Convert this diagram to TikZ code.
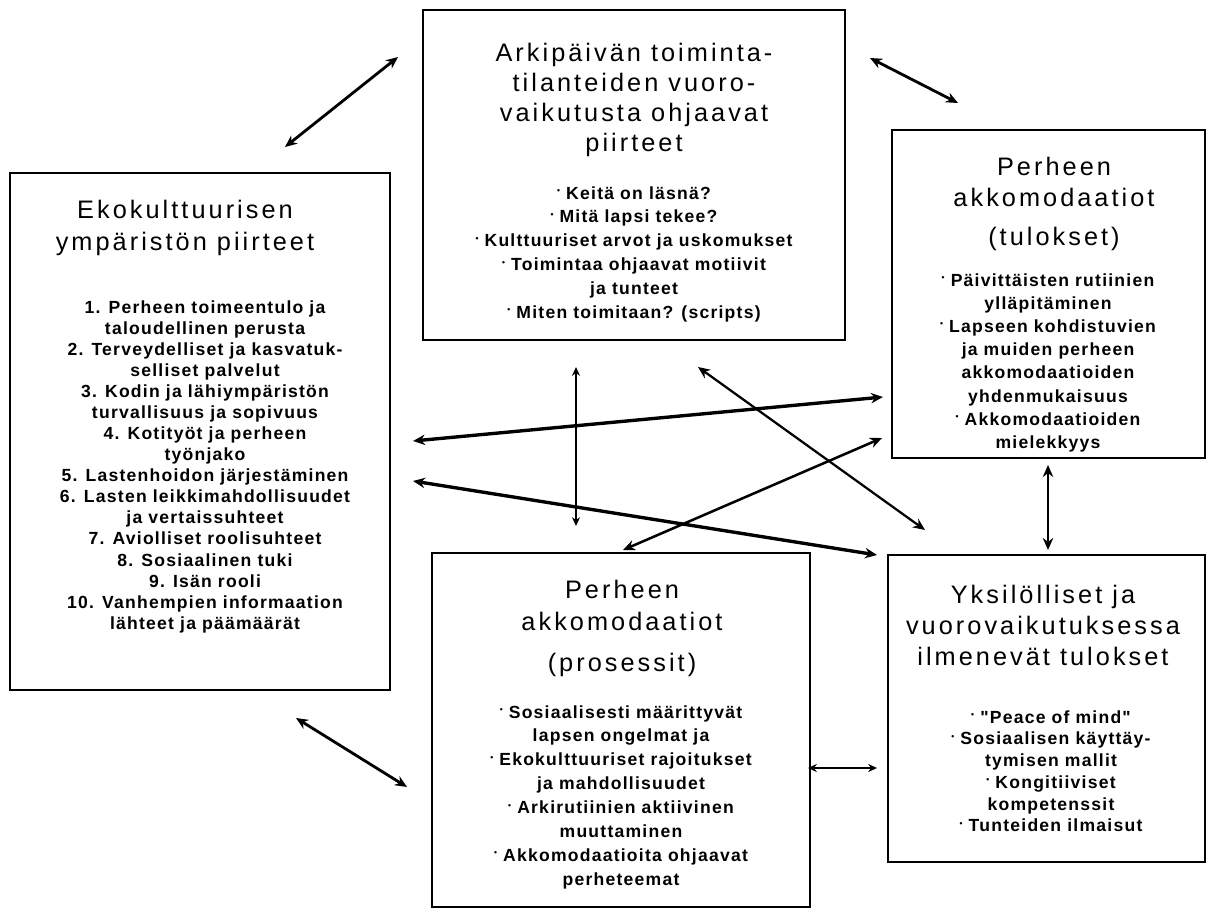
\documentclass[tikz,border=0pt]{standalone}
\usepackage{fontspec}
\usetikzlibrary{arrows.meta}
\newfontfamily\headfont[LetterSpace=12]{Liberation Sans}
\newfontfamily\itemfont[LetterSpace=7]{Liberation Sans}
\newcommand\blt{\raisebox{.6ex}{\fontsize{6}{6}\selectfont\textbullet}\ }
\tikzstyle{box} = [draw, line width=1.2pt, inner sep=0pt]
\tikzset{head/.style={align=center, anchor=north, inner sep=0pt, font=\headfont\fontsize{18}{#1}\selectfont}, head/.default=22}
\tikzset{item/.style={align=center, anchor=north, inner sep=0pt, font=\itemfont\bfseries\fontsize{12.5}{#1}\selectfont}, item/.default=17}
\tikzstyle{link} = [{Stealth[length=3mm,width=2.6mm]}-{Stealth[length=3mm,width=2.6mm]}, line width=2pt]
\tikzstyle{thinlink} = [{Stealth[length=2.2mm,width=2mm]}-{Stealth[length=2.2mm,width=2mm]}, line width=1pt]

\begin{document}
\begin{tikzpicture}[x=0.25mm, y=-0.25mm]

  \useasboundingbox (0,0) rectangle (1214,910);

  % boxes
  \node[box, minimum width=105.5mm, minimum height=82.5mm] (arki) at (634,175) {};
  \node[box, minimum width=95mm, minimum height=129.25mm] (eko) at (200,431.5) {};
  \node[box, minimum width=78.25mm, minimum height=82mm] (tulos) at (1048.5,294) {};
  \node[box, minimum width=94.5mm, minimum height=88.5mm] (prosessi) at (621,730) {};
  \node[box, minimum width=79.25mm, minimum height=76.75mm] (yksilo) at (1046.5,708.5) {};

  % texts
  \node[head=21.3] (arkiT) at (634,43) {Arkipäivän toiminta-\\tilanteiden vuoro-\\vaikutusta ohjaavat\\piirteet};
  \node[item] (arkiL) at (634,186) {\blt Keitä on läsnä?\\\blt Mitä lapsi tekee?\\\blt Kulttuuriset arvot ja uskomukset\\\blt Toimintaa ohjaavat motiivit\\ja tunteet\\\blt Miten toimitaan? (scripts)};

  \node[head=23] (ekoT) at (185,200) {Ekokulttuurisen\\ympäristön piirteet};
  \node[item=15] (ekoL) at (205,300) {1. Perheen toimeentulo ja\\taloudellinen perusta\\2. Terveydelliset ja kasvatuk-\\selliset palvelut\\3. Kodin ja lähiympäristön\\turvallisuus ja sopivuus\\4. Kotityöt ja perheen\\työnjako\\5. Lastenhoidon järjestäminen\\6. Lasten leikkimahdollisuudet\\ja vertaissuhteet\\7. Aviolliset roolisuhteet\\8. Sosiaalinen tuki\\9. Isän rooli\\10. Vanhempien informaation\\lähteet ja päämäärät};

  \node[head] (tulosT) at (1054,157) {Perheen\\akkomodaatiot\\[6pt](tulokset)};
  \node[item=16.5] (tulosL) at (1048,273) {\blt Päivittäisten rutiinien\\ylläpitäminen\\\blt Lapseen kohdistuvien\\ja muiden perheen\\akkomodaatioiden\\yhdenmukaisuus\\\blt Akkomodaatioiden\\mielekkyys};

  \node[head=23] (prosessiT) at (622,580) {Perheen\\akkomodaatiot\\[6pt](prosessit)};
  \node[item] (prosessiL) at (621,705) {\blt Sosiaalisesti määrittyvät\\lapsen ongelmat ja\\\blt Ekokulttuuriset rajoitukset\\ja mahdollisuudet\\\blt Arkirutiinien aktiivinen\\muuttaminen\\\blt Akkomodaatioita ohjaavat\\perheteemat};

  \node[head] (yksiloT) at (1043,585) {Yksilölliset ja\\vuorovaikutuksessa\\ilmenevät tulokset};
  \node[item=15.5] (yksiloL) at (1051,710) {\blt "Peace of mind"\\\blt Sosiaalisen käyttäy-\\tymisen mallit\\\blt Kongitiiviset\\kompetenssit\\\blt Tunteiden ilmaisut};

  % arrow ends
  \coordinate (e1) at (285,147);  \coordinate (a1) at (398,57);
  \coordinate (a2) at (870,58);   \coordinate (t1) at (958,103);
  \coordinate (a3) at (576,367);  \coordinate (p1) at (576,526);
  \coordinate (e2) at (413,441);  \coordinate (t2) at (883,397);
  \coordinate (e3) at (413,481);  \coordinate (y1) at (877,555);
  \coordinate (a4) at (698,367);  \coordinate (y2) at (925,530);
  \coordinate (p2) at (623,550);  \coordinate (t3) at (882,438);
  \coordinate (t4) at (1048,465); \coordinate (y3) at (1048,550);
  \coordinate (p3) at (808,768);  \coordinate (y4) at (877,768);
  \coordinate (e4) at (296,718);  \coordinate (p4) at (407,787);

  \draw[link] (e1) -- (a1);
  \draw[link] (a2) -- (t1);
  \draw[thinlink] (a3) -- (p1);
  \draw[link, line width=2.4pt] (e2) -- (t2);
  \draw[link, line width=2.4pt] (e3) -- (y1);
  \draw[link, line width=1.6pt] (a4) -- (y2);
  \draw[link, line width=1.8pt] (p2) -- (t3);
  \draw[link, line width=1.6pt] (t4) -- (y3);
  \draw[thinlink, line width=1.3pt] (p3) -- (y4);
  \draw[link] (e4) -- (p4);

\end{tikzpicture}
\end{document}
